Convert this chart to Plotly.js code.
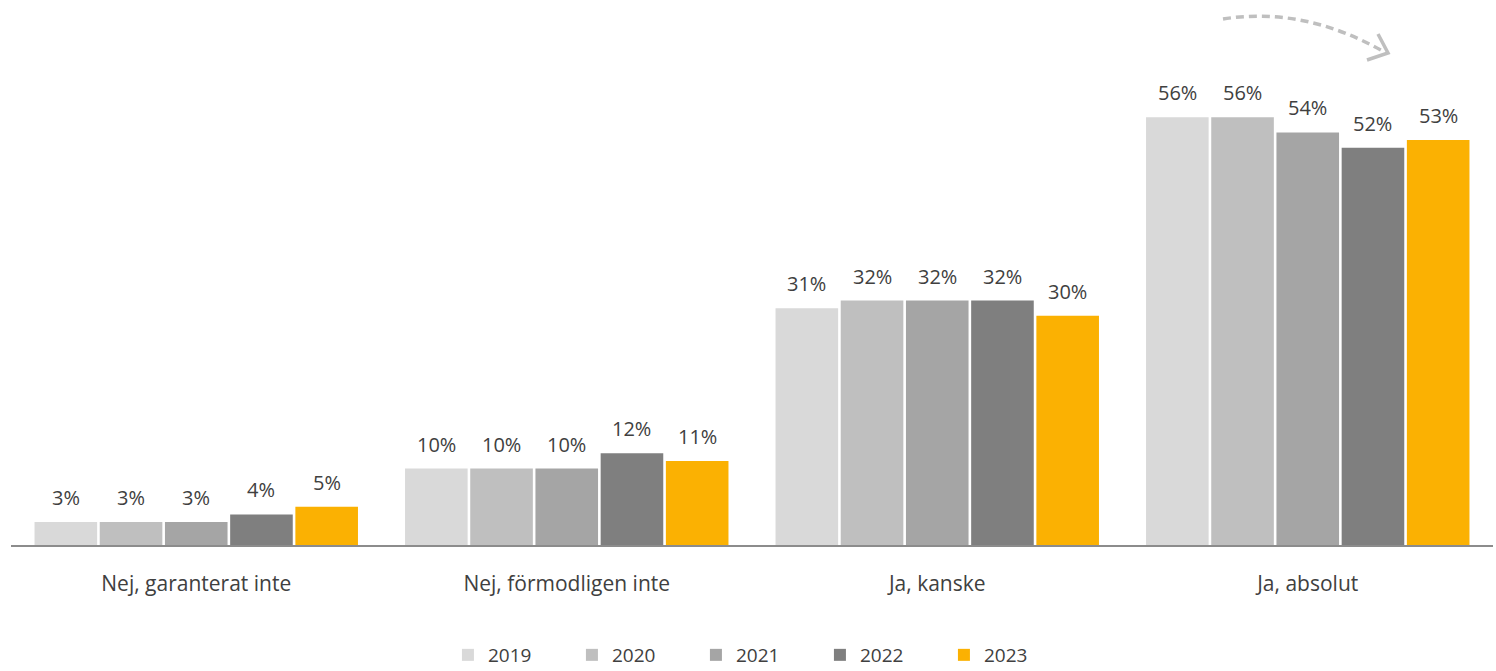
<!DOCTYPE html>
<html><head><meta charset="utf-8">
<script src="https://cdn.plot.ly/plotly-3.0.1.min.js"></script>
<style>html,body{margin:0;padding:0;background:#fff}#chart{width:1496px;height:671px}</style>
</head><body><div id="chart"></div>
<script>
const categories = ["Nej, garanterat inte", "Nej, förmodligen inte", "Ja, kanske", "Ja, absolut"];
const years = ["2019", "2020", "2021", "2022", "2023"];
const v2019 = [3, 10, 31, 56];
const v2020 = [3, 10, 32, 56];
const v2021 = [3, 10, 32, 54];
const v2022 = [4, 12, 32, 52];
const v2023 = [5, 11, 30, 53];
const series = [v2019, v2020, v2021, v2022, v2023];
const colors = ["#d9d9d9", "#bfbfbf", "#a5a5a5", "#7f7f7f", "#fbb102"];

const W = 1496, H = 671;
const M = {l: 11, r: 3, t: 0, b: 126};
const plotW = W - M.l - M.r, plotH = H - M.t - M.b;
const bargap = 0.12;
const slot = plotW / categories.length * (1 - bargap) / years.length;
const FONT = "Open Sans, sans-serif";
const TXT = "#404040";

const traces = series.map((vals, i) => ({
  type: "bar", name: years[i], x: categories, y: vals,
  marker: {color: colors[i], line: {width: 0}},
  hoverinfo: "skip"
}));

const annotations = [];
series.forEach((vals, i) => {
  vals.forEach((v, j) => {
    annotations.push({
      x: categories[j], y: v, xref: "x", yref: "y",
      text: v + "%", showarrow: false, yanchor: "bottom",
      xshift: (i - (years.length - 1) / 2) * slot, yshift: 9,
      font: {family: FONT, size: 20, color: TXT}
    });
  });
});

// decorative dashed curved arrow (pixel -> paper)
const px = x => (x - M.l) / plotW;
const py = y => (H - M.b - y) / plotH;
const shapes = [
  {type: "path", xref: "paper", yref: "paper",
   path: `M${px(1223)},${py(19)} Q${px(1305)},${py(6)} ${px(1386)},${py(53)}`,
   line: {color: "#bfbfbf", width: 3.5, dash: "8px,5px"}},
  {type: "path", xref: "paper", yref: "paper",
   path: `M${px(1367)},${py(60)} L${px(1388)},${py(53)} L${px(1378)},${py(34)}`,
   line: {color: "#bfbfbf", width: 3.5}}
];

const layout = {
  width: W, height: H, margin: M,
  paper_bgcolor: "#fff", plot_bgcolor: "#fff",
  barmode: "group", bargap: bargap, bargroupgap: 0.04,
  font: {family: FONT, color: TXT},
  xaxis: {
    type: "category", showgrid: false, zeroline: false,
    showline: true, linecolor: "#8c8c8c", linewidth: 2,
    ticks: "", tickfont: {family: FONT, size: 21, color: TXT},
    ticklabelstandoff: 19, fixedrange: true, automargin: false
  },
  yaxis: {range: [0, plotH / 7.64], visible: false, showgrid: false, zeroline: false, fixedrange: true, automargin: false},
  showlegend: true,
  legend: {
    orientation: "h", x: 0.504, xanchor: "center",
    yref: "container", y: (H - 655) / H, yanchor: "middle",
    font: {family: FONT, size: 19, color: TXT}, entrywidth: 79, traceorder: "normal"
  },
  annotations: annotations, shapes: shapes
};

Plotly.newPlot("chart", traces, layout, {displayModeBar: false, staticPlot: true});
</script></body></html>
